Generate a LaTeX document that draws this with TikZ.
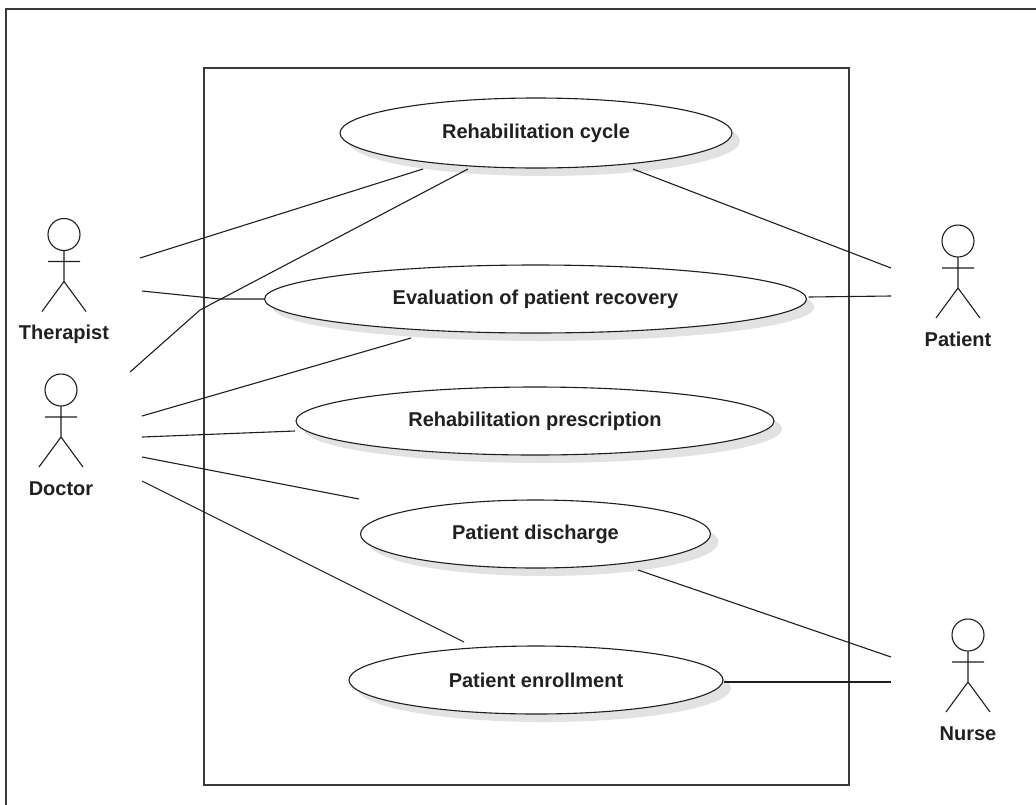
\documentclass[tikz,border=0pt]{standalone}
\usepackage{fontspec}
\setmainfont{Liberation Sans}
\usetikzlibrary{shapes.geometric,shadows,calc}
\definecolor{ink}{HTML}{1E1E1E}
\definecolor{txt}{HTML}{202020}
\definecolor{shade}{HTML}{E2E2E2}
\definecolor{framec}{HTML}{3A3A3A}
\newcommand\umlactor[3]{%
  \node[circle, draw=ink, line width=1.1pt, minimum size=32pt, inner sep=0pt] (#1) at (#2) {};
  \draw[ink, line width=1.1pt] ($(#1)+(0,16)$) -- ($(#1)+(0,47)$)
     ($(#1)+(-16,27)$) -- ($(#1)+(16,27)$)
     ($(#1)+(-22,77)$) -- ($(#1)+(0,47)$) -- ($(#1)+(22,77)$);
  \node[actorlabel] (#1-l) at ($(#1)+(0,105)$) {#3};
}
\begin{document}
\begin{tikzpicture}[x=1pt,y=-1pt,
  uc/.style={ellipse, draw=ink, line width=1.1pt, fill=white, inner sep=0pt,
    font=\fontsize{20}{24}\selectfont\bfseries, text=txt,
    drop shadow={shadow xshift=8pt, shadow yshift=-8pt, fill=shade, opacity=1}},
  conn/.style={draw=ink, line width=1.1pt},
  actorlabel/.style={font=\fontsize{20}{24}\selectfont\bfseries, text=txt, anchor=base},
]
\useasboundingbox (0,0) rectangle (1036,804);
\clip (0,0) rectangle (1036,804);
% outer frame
\draw[framec, line width=1.3pt] (6,830) -- (6,9) -- (1060,9);
% system boundary
\draw[framec, line width=1.1pt] (204,68) rectangle (849,785);
% use cases
\node[uc, minimum width=392pt, minimum height=70pt] (rc) at (536,133) {Rehabilitation cycle};
\node[uc, minimum width=542pt, minimum height=68pt] (ev) at (535.5,299) {Evaluation of patient recovery};
\node[uc, minimum width=478pt, minimum height=68pt] (rp) at (535,421) {Rehabilitation prescription};
\node[uc, minimum width=350pt, minimum height=68pt] (pd) at (535.5,534) {Patient discharge};
\node[uc, minimum width=374pt, minimum height=68pt] (pe) at (536,680) {Patient enrollment};
% actors
\umlactor{th}{64,234.5}{Therapist}
\umlactor{dr}{61,390}{Doctor}
\umlactor{pa}{958,241}{Patient}
\umlactor{nu}{968,635}{Nurse}
% bend points
\coordinate (b1) at (220,299);
\coordinate (b2) at (200,310);
% connectors
\draw[conn] ($(th)+(76,23.5)$) -- ($(rc)+(-113,36)$);
\draw[conn] ($(th)+(78,56.5)$) -- (b1) -- (ev.west);
\draw[conn] ($(dr)+(69,-18)$) -- (b2) -- ($(rc)+(-68,36)$);
\draw[conn] ($(dr)+(81,26)$) -- ($(ev)+(-124.5,39)$);
\draw[conn] ($(dr)+(81,47)$) -- ($(rp)+(-240,10)$);
\draw[conn] ($(dr)+(81,67)$) -- ($(pd)+(-176.5,-35)$);
\draw[conn] ($(dr)+(81,91)$) -- ($(pe)+(-72,-38)$);
\draw[conn] ($(rc)+(97,36)$) -- ($(pa)+(-67,27)$);
\draw[conn] ($(ev)+(273,-2)$) -- ($(pa)+(-67,55)$);
\draw[conn] ($(pd)+(102.5,36)$) -- ($(nu)+(-77,22)$);
\draw[conn] ($(pe)+(188,2)$) -- ($(nu)+(-77,47)$);
\end{tikzpicture}
\end{document}
